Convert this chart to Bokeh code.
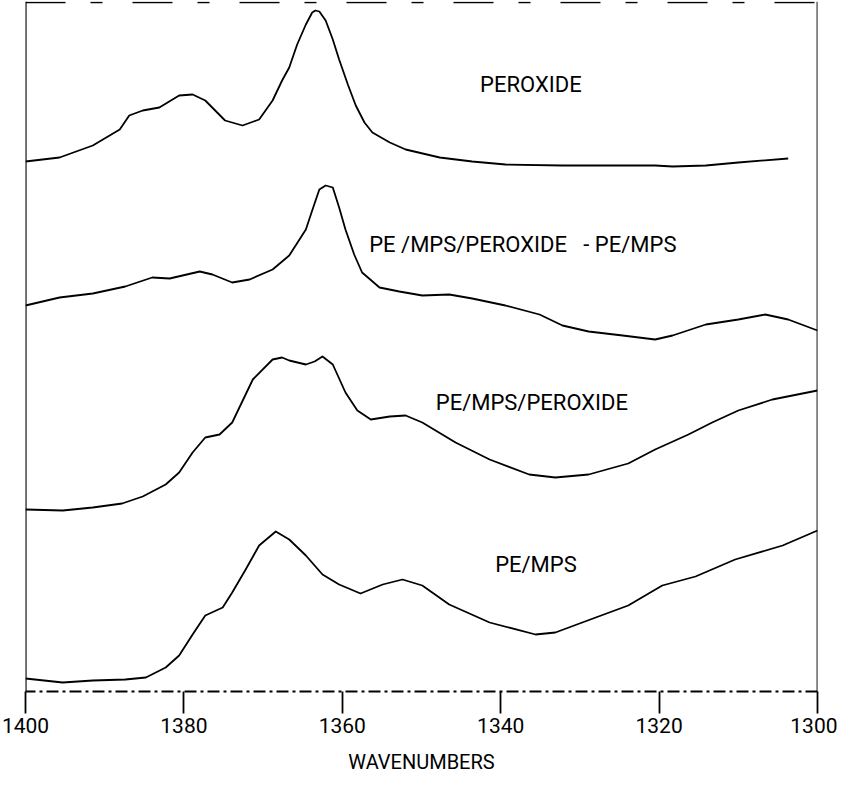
from bokeh.plotting import figure
from bokeh.models import Range1d, FixedTicker, Span, ColumnDataSource
from bokeh.core.properties import value
from bokeh.embed import file_html
from bokeh.resources import INLINE

# ---- data (wavenumber, cm^-1 ; absorbance with offsets, arbitrary units) ----
peroxide_wn = [1400.0, 1395.7, 1391.5, 1388.1, 1386.9, 1385.2, 1383.1, 1380.6, 1378.9, 1377.3,
               1374.8, 1372.6, 1370.5, 1368.8, 1367.6, 1366.7, 1365.7, 1364.6, 1363.8, 1363.4,
               1362.9, 1362.1, 1361.2, 1360.4, 1359.3, 1358.3, 1357.2, 1356.2, 1354.0, 1352.0,
               1347.7, 1343.6, 1339.4, 1332.2, 1320.5, 1318.3, 1314.1, 1310.0, 1303.7]
peroxide_ab = [530, 534, 546, 562, 576, 581, 584, 596, 597, 591,
               571, 566, 572, 591, 611, 624, 647, 667, 679, 681,
               680, 671, 652, 632, 607, 586, 569, 559, 549, 542,
               534, 530, 527, 526, 526, 525, 526, 529, 533]

diff_wn = [1400.0, 1395.7, 1391.5, 1387.4, 1384.0, 1381.8, 1378.0, 1376.4, 1373.9, 1371.7,
           1368.8, 1367.6, 1366.7, 1364.6, 1363.8, 1362.9, 1362.1, 1361.2, 1360.4, 1359.6,
           1358.5, 1357.5, 1355.3, 1352.8, 1349.9, 1346.5, 1343.6, 1339.4, 1335.1, 1332.2,
           1328.9, 1324.6, 1320.5, 1318.3, 1314.1, 1310.0, 1306.6, 1303.7, 1300.0]
diff_ab = [386, 394, 398, 405, 414, 413, 420, 417, 409, 412,
           422, 430, 436, 462, 481, 502, 506, 504, 484, 462,
           437, 419, 404, 400, 396, 397, 393, 386, 377, 366,
           360, 356, 352, 356, 367, 372, 377, 372, 361]

pe_mps_perox_wn = [1400.0, 1395.3, 1391.5, 1387.8, 1385.2, 1382.3, 1380.6, 1378.9, 1377.3, 1375.5,
                   1373.9, 1371.3, 1368.8, 1367.6, 1366.7, 1364.6, 1363.5, 1362.5, 1361.2, 1359.6,
                   1358.1, 1356.4, 1354.0, 1352.0, 1349.9, 1345.7, 1341.4, 1336.4, 1333.1, 1328.9,
                   1323.9, 1320.5, 1316.3, 1313.3, 1310.0, 1305.7, 1300.0]
pe_mps_perox_ab = [182, 181, 184, 188, 195, 207, 219, 239, 254, 257,
                   269, 312, 332, 334, 331, 327, 330, 335, 327, 299,
                   281, 272, 275, 276, 269, 249, 232, 217, 214, 217,
                   228, 242, 257, 269, 281, 292, 301]

pe_mps_wn = [1400.0, 1395.3, 1391.5, 1387.4, 1384.8, 1382.3, 1380.6, 1378.9, 1377.3, 1375.1,
             1373.9, 1372.2, 1370.5, 1368.4, 1366.7, 1364.6, 1362.5, 1360.4, 1357.7, 1354.9,
             1352.4, 1349.9, 1346.5, 1341.4, 1335.6, 1333.1, 1328.0, 1323.9, 1319.6, 1315.4,
             1310.4, 1304.4, 1300.0]
pe_mps_ab = [13, 9, 11, 12, 14, 24, 36, 57, 76, 84,
             99, 122, 146, 160, 152, 136, 117, 107, 98, 107,
             112, 106, 87, 69, 57, 59, 74, 86, 106, 115,
             132, 146, 161]

label_text = ["PEROXIDE", "PE /MPS/PEROXIDE\u00a0\u00a0\u00a0-\u00a0PE/MPS", "PE/MPS/PEROXIDE", "PE/MPS"]
label_wn = [1342.6, 1356.6, 1348.2, 1340.7]
label_ab = [607, 447, 289, 127]

x_ticks = [1400, 1380, 1360, 1340, 1320, 1300]
x_title = "WAVENUMBERS"

FONT = "Roboto"

p = figure(width=837, height=780, output_backend="svg", toolbar_location=None,
           x_range=Range1d(1400, 1300), y_range=Range1d(0, 690),
           y_axis_location=None, min_border_left=25, min_border_right=20,
           min_border_top=1, min_border_bottom=89)
p.outline_line_color = None
p.xgrid.visible = False
p.ygrid.visible = False
p.background_fill_color = "white"
p.border_fill_color = "white"

for wn, ab in [(peroxide_wn, peroxide_ab), (diff_wn, diff_ab),
               (pe_mps_perox_wn, pe_mps_perox_ab), (pe_mps_wn, pe_mps_ab)]:
    p.line(wn, ab, line_color="black", line_width=1.8, line_join="round")

src = ColumnDataSource(dict(x=label_wn, y=label_ab, t=label_text))
p.text(x="x", y="y", text="t", source=src, text_font=value(FONT),
       text_font_size="22px", text_align="left", text_baseline="middle",
       text_color="black")

# frame lines
p.add_layout(Span(location=1400, dimension="height", line_color="black", line_width=2.2))
p.add_layout(Span(location=1300, dimension="height", line_color="black", line_width=1.8))
p.add_layout(Span(location=689, dimension="width", line_color="black", line_width=1.5,
                  line_dash="40 25 12 30"))

ax = p.xaxis[0]
ax.ticker = FixedTicker(ticks=x_ticks)
ax.minor_tick_line_color = None
ax.major_tick_in = 0
ax.major_tick_out = 22
ax.major_tick_line_width = 1.8
ax.major_tick_line_color = "black"
ax.axis_line_color = "black"
ax.axis_line_width = 1.8
ax.axis_line_dash = "12 4 3 4"
ax.major_label_text_font = FONT
ax.major_label_text_font_size = "21px"
ax.major_label_text_color = "black"
ax.major_label_standoff = 4
ax.axis_label = x_title
ax.axis_label_text_font = FONT
ax.axis_label_text_font_size = "20px"
ax.axis_label_text_font_style = "normal"
ax.axis_label_text_color = "black"
ax.axis_label_standoff = 14

open("out.html", "w").write(file_html(p, INLINE))
